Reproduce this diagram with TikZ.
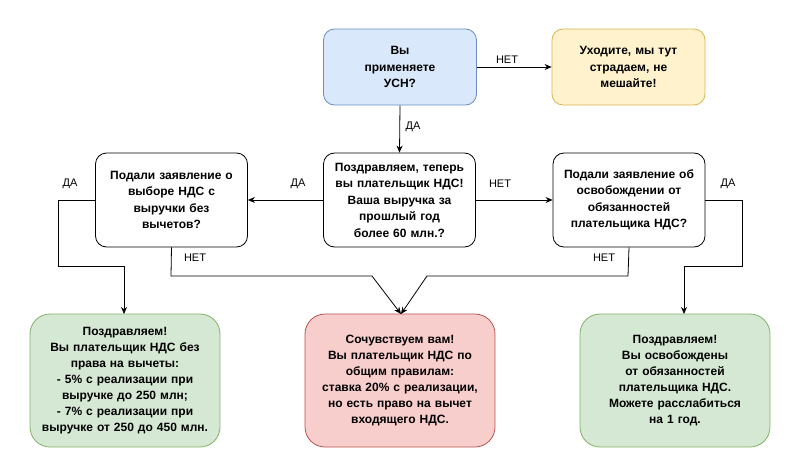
\documentclass[tikz,border=0pt]{standalone}
\usepackage{fontspec}
\setmainfont{Liberation Sans}
\usetikzlibrary{arrows.meta}
\definecolor{bluef}{HTML}{DAE8FC}\definecolor{blued}{HTML}{6C8EBF}
\definecolor{yelf}{HTML}{FFF2CC}\definecolor{yeld}{HTML}{D6B656}
\definecolor{grnf}{HTML}{D5E8D4}\definecolor{grnd}{HTML}{82B366}
\definecolor{pnkf}{HTML}{F8CECC}\definecolor{pnkd}{HTML}{B85450}
\begin{document}
\begin{tikzpicture}[x=1pt,y=-1pt,
  box/.style={rectangle,rounded corners=11pt,draw,line width=0.8pt,align=center,
    font=\fontsize{12}{16.5}\selectfont\bfseries,inner sep=2pt},
  topbox/.style={box,minimum width=153pt,minimum height=76pt,text width=140pt},
  midbox/.style={box,minimum width=152pt,minimum height=94pt,text width=146pt},
  botbox/.style={box,rounded corners=20pt,minimum width=190pt,minimum height=133pt,text width=186pt,
    font=\fontsize{12}{16}\selectfont\bfseries},
  lbl/.style={font=\fontsize{11}{13}\selectfont,inner sep=0pt},
  conn/.style={line width=0.8pt,-{Stealth[length=7pt,width=6pt]}},
  plain/.style={line width=0.8pt}]
\useasboundingbox (0,0) rectangle (800,474);
\fill[white] (0,0) rectangle (800,474);

\node[topbox,fill=bluef,draw=blued] (usn) at (400,67) {Вы\\применяете\\УСН?};
\node[topbox,fill=yelf,draw=yeld] (leave) at (628.5,67) {Уходите, мы тут\\страдаем, не\\мешайте!};

\node[midbox,fill=white,draw=black] (mid) at (399.5,200) {Поздравляем, теперь\\вы плательщик НДС!\\Ваша выручка за\\прошлый год\\более 60 млн.?};
\node[midbox,fill=white,draw=black] (left) at (171.5,200) {Подали заявление о\\выборе НДС с\\выручки без\\вычетов?};
\node[midbox,fill=white,draw=black] (right) at (629,200) {Подали заявление об\\освобождении от\\обязанностей\\плательщика НДС?};

\node[botbox,fill=grnf,draw=grnd] (g1) at (125,380.5) {Поздравляем!\\Вы плательщик НДС без\\права на вычеты:\\- 5\% с реализации при\\выручке до 250 млн;\\- 7\% с реализации при\\выручке от 250 до 450 млн.};
\node[botbox,fill=pnkf,draw=pnkd] (pink) at (400,380.5) {Сочувствуем вам!\\Вы плательщик НДС по\\общим правилам:\\ставка 20\% с реализации,\\но есть право на вычет\\входящего НДС.};
\node[botbox,fill=grnf,draw=grnd] (g2) at (675,380.5) {Поздравляем!\\Вы освобождены\\от обязанностей\\плательщика НДС.\\Можете расслабиться\\на 1 год.};

% connectors
\draw[conn] (usn.east) -- (leave.west);
\node[lbl] (l1) at (507,60) {НЕТ};
\draw[conn] (usn.south) -- (mid.north);
\node[lbl] (l2) at (413,127) {ДА};
\draw[conn] (mid.west) -- (left.east);
\node[lbl] (l3) at (298,184) {ДА};
\draw[conn] (mid.east) -- (right.west);
\node[lbl] (l4) at (500,184) {НЕТ};

\coordinate (a1) at (58,200);
\coordinate (a2) at (58,266);
\coordinate (a3) at (124,266);
\coordinate (a4) at (124,314);
\draw[conn] (left.west) -- (a1) -- (a2) -- (a3) -- (a4);
\node[lbl] (l5) at (70,184) {ДА};

\coordinate (b1) at (171,276);
\coordinate (b2) at (372,276);
\coordinate (pt) at (401,314);
\draw[conn] (left.south) -- (b1) -- (b2) -- (pt);
\node[lbl] (l6) at (195,258) {НЕТ};

\coordinate (c1) at (628,276);
\coordinate (c2) at (427,276);
\draw[conn] (right.south) -- (c1) -- (c2) -- (pt);
\node[lbl] (l7) at (604,258) {НЕТ};

\coordinate (d1) at (742,200);
\coordinate (d2) at (742,266);
\coordinate (d3) at (684,266);
\coordinate (d4) at (684,314);
\draw[conn] (right.east) -- (d1) -- (d2) -- (d3) -- (d4);
\node[lbl] (l8) at (728,184) {ДА};
\end{tikzpicture}
\end{document}
